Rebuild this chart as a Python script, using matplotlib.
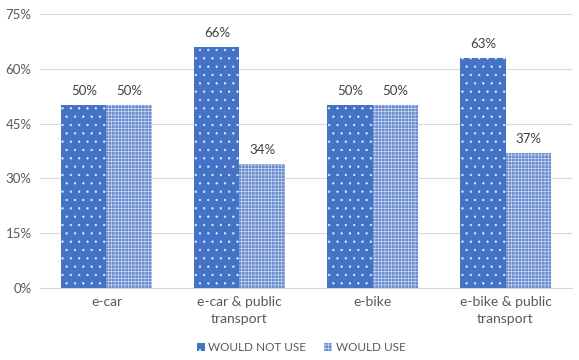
import matplotlib.pyplot as plt
import numpy as np

plt.rcParams['font.family'] = ['Lato', 'DejaVu Sans']
plt.rcParams['hatch.linewidth'] = 0.4

categories = ['e-car', 'e-car & public\ntransport', 'e-bike', 'e-bike & public\ntransport']
would_not_use = [50, 66, 50, 63]
would_use = [50, 34, 50, 37]
yticks = [0, 15, 30, 45, 60, 75]

blue = '#4472C4'
text_gray = '#595959'

fig = plt.figure(figsize=(5.79, 3.6), dpi=100)
ax = fig.add_axes([0.069, 0.2, 0.919, 0.761])

x = np.arange(len(categories))
w = 0.34
# edgecolor drives the hatch colour; linewidth 0 keeps the outline hidden
b1 = ax.bar(x - w / 2, would_not_use, w, color=blue, edgecolor='#E8EEF8',
            hatch='..', linewidth=0, label='WOULD NOT USE', zorder=3)
b2 = ax.bar(x + w / 2, would_use, w, color='#6A8DD0', edgecolor='#DCE5F5',
            hatch='+++++', linewidth=0, label='WOULD USE', zorder=3)

for bars, vals in ((b1, would_not_use), (b2, would_use)):
    for bar, v in zip(bars, vals):
        ax.text(bar.get_x() + bar.get_width() / 2, v + 2.2, f'{v}%',
                ha='center', va='bottom', fontsize=9.5, color='#404040')

ax.set_xlim(-0.5, len(categories) - 0.5)
ax.set_ylim(0, 75)
ax.set_yticks(yticks)
ax.set_yticklabels([f'{t}%' for t in yticks])
ax.set_xticks(x)
ax.set_xticklabels(categories, linespacing=1.45)
ax.yaxis.grid(True, color='#D9D9D9', linewidth=0.8, zorder=0)
for s in ('top', 'right', 'left'):
    ax.spines[s].set_visible(False)
ax.spines['bottom'].set_color('#D9D9D9')
ax.tick_params(axis='y', length=0, labelsize=9.5, colors=text_gray, pad=6)
ax.tick_params(axis='x', length=0, labelsize=10, colors=text_gray, pad=6)

fig.legend(loc='lower center', bbox_to_anchor=(0.52, -0.01), ncol=2, frameon=False,
           fontsize=8.5, labelcolor=text_gray, handlelength=0.7, handleheight=0.7,
           handletextpad=0.3, columnspacing=1.5)

fig.savefig('out.png', dpi=100)
